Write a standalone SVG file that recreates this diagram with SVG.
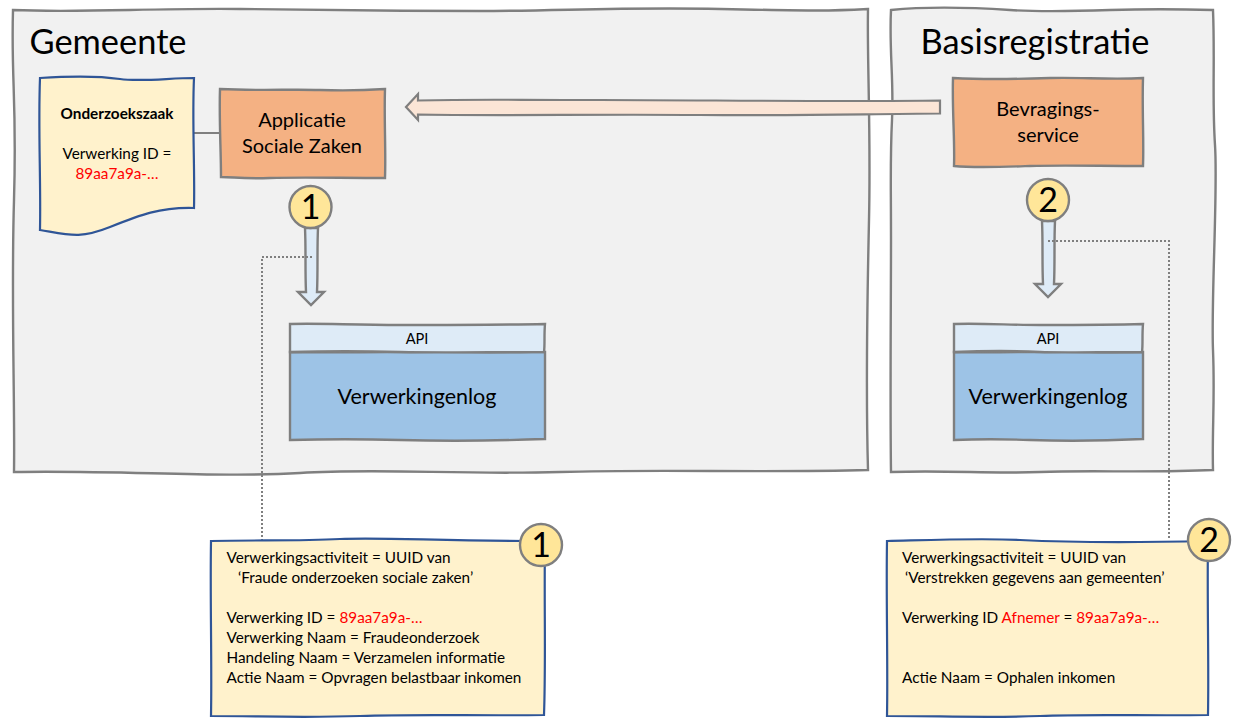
<svg xmlns="http://www.w3.org/2000/svg" width="1241" height="727" viewBox="0 0 1241 727">
<style>
text{font-family:"Lato","Liberation Sans",sans-serif;fill:#000}
.panel{fill:#f1f1f1;stroke:#7f7f7f;stroke-width:2.4}
.orange{fill:#f4b183;stroke:#7f7f7f;stroke-width:2.4}
.paper{fill:#fff2cc;stroke:#2f5597;stroke-width:2.2}
.badge{fill:#ffe699;stroke:#7f7f7f;stroke-width:2.4}
.api{fill:#deebf7;stroke:#7f7f7f;stroke-width:2.4}
.log{fill:#9dc3e6;stroke:#7f7f7f;stroke-width:2.4}
.arrow{fill:#deebf7;stroke:#7f7f7f;stroke-width:2.4}
.big{fill:#fbe5d6;stroke:#7f7f7f;stroke-width:2.2}
.dot{fill:none;stroke:#7f7f7f;stroke-width:2;stroke-dasharray:2 2}
.line{fill:none;stroke:#7f7f7f;stroke-width:2}
.title{font-size:34.4px}
.label{font-size:20px}
.logt{font-size:21.5px}
.small{font-size:15.3px}
.api-t{font-size:14.6px}
.num{font-size:34px}
.red{fill:#ff0000}
</style>
<g id="panel-gemeente">
<path class="panel" d="M13 10C80 13 150 8 240 9S400 11 480 11S620 7 720 9S830 11 868 9C867 60 871 130 869 220S866 400 868 470C760 473 660 469 560 472S380 468 300 473S120 470 14 472C15 400 11 300 14 200S11 80 13 10Z"/>
<text class="title" x="29.500" y="54">Gemeente</text>
</g>
<g id="panel-basisregistratie">
<path class="panel" d="M891 10C930 6 980 8 1010 10S1080 11 1110 10S1180 9 1213 10C1215 60 1212 100 1215 145S1211 300 1213 350S1212 430 1213 470C1150 473 1090 470 1040 472S950 470 891 472C890 400 891 300 891 240S890 160 892 120S889 50 891 10Z"/>
<text class="title" x="920.500" y="54">Basisregistratie</text>
</g>
<g id="connectors">
<path class="line" d="M194 133H220"/>
<path class="big" d="M940 100.500C840 102 700 100 600 100S480 99 418 100.500V94L406 107L418 120V114.500C500 116 600 114 700 115S860 114 940 113.500Z"/>
<path class="arrow" d="M305 228C306 250 305 270 306 292H298L311 305L324 292H317C318 270 317 250 318 228Z"/>
<path class="arrow" d="M1042 221C1043 243 1042 263 1043 284H1035L1048 297L1061 284H1054C1055 263 1054 243 1055 221Z"/>
<path class="dot" d="M312 257H262V540"/>
<path class="dot" d="M1048 241H1169V540"/>
</g>
<g id="doc-onderzoekszaak">
<path class="paper" d="M40 78C70 76 100 76 120 79S170 78 194 78C192 120 195 170 194 208C160 207 140 215 110 227S70 235 40 230C41 180 38 130 40 78Z"/>
<text class="small" font-weight="700" x="117" y="118.500" text-anchor="middle">Onderzoekszaak</text>
<text class="small" x="117" y="158.500" text-anchor="middle">Verwerking ID =</text>
<text class="small red" x="117" y="178.500" text-anchor="middle">89aa7a9a-…</text>
</g>
<g id="node-applicatie">
<path class="orange" d="M220 89C260 91 290 89 320 90S370 90 385 89C384 120 386 150 385 178C340 178 300 177 270 178S235 177 221 177C221 150 219 120 220 89Z"/>
<text class="label" x="302" y="127" text-anchor="middle">Applicatie</text>
<text class="label" x="302" y="153" text-anchor="middle">Sociale Zaken</text>
</g>
<g id="node-bevragingsservice">
<path class="orange" d="M953 78C990 80 1020 79 1050 78S1110 80 1143 78C1142 110 1144 140 1143 166C1100 166 1060 165 1030 166S975 168 954 166C955 140 952 110 953 78Z"/>
<text class="label" x="1048" y="116" text-anchor="middle">Bevragings-</text>
<text class="label" x="1048" y="142" text-anchor="middle">service</text>
</g>
<g id="badge-1a">
<circle class="badge" cx="310.500" cy="207" r="21"/>
<text class="num" x="310.500" y="219" text-anchor="middle">1</text>
</g>
<g id="badge-2a">
<circle class="badge" cx="1048" cy="200" r="21"/>
<text class="num" x="1048" y="212" text-anchor="middle">2</text>
</g>
<g id="log-gemeente">
<path class="log" d="M290 352C360 353 420 351 470 352S530 352 545 352V439C490 441 440 441 400 440S330 439 290 440Z"/>
<path class="api" d="M290 324C320 323 350 325 400 325S500 325 545 324C544 335 545 345 544 352C490 352 440 353 400 352S330 351 290 352Z"/>
<text class="api-t" x="417" y="344" text-anchor="middle">API</text>
<text class="logt" x="417" y="404" text-anchor="middle">Verwerkingenlog</text>
</g>
<g id="log-basisregistratie">
<path class="log" d="M954 352C1000 353 1050 351 1090 352S1130 352 1143 352V439C1100 441 1060 441 1030 440S980 439 954 440Z"/>
<path class="api" d="M954 324C980 323 1010 325 1040 325S1110 325 1143 324C1142 335 1143 345 1142 352C1100 352 1060 353 1040 352S980 351 954 352Z"/>
<text class="api-t" x="1048" y="344" text-anchor="middle">API</text>
<text class="logt" x="1048" y="404" text-anchor="middle">Verwerkingenlog</text>
</g>
<g id="note-1">
<path class="paper" d="M211 541C260 540 300 541 340 539S440 541 545 541C544 600 546 660 544 715C480 716 420 714 360 716S260 716 211 716C212 660 210 600 211 541Z"/>
<text class="small" x="226.500" y="563">Verwerkingsactiviteit = UUID van</text>
<text class="small" x="238" y="583">‘Fraude onderzoeken sociale zaken’</text>
<text class="small" x="226.500" y="623">Verwerking ID = <tspan class="red">89aa7a9a-…</tspan></text>
<text class="small" x="226.500" y="643">Verwerking Naam = Fraudeonderzoek</text>
<text class="small" x="226.500" y="663">Handeling Naam = Verzamelen informatie</text>
<text class="small" x="226.500" y="683">Actie Naam = Opvragen belastbaar inkomen</text>
<circle class="badge" cx="541" cy="545" r="21"/>
<text class="num" x="541" y="557" text-anchor="middle">1</text>
</g>
<g id="note-2">
<path class="paper" d="M887 541C930 540 980 538 1020 540S1120 543 1208 541C1207 600 1209 660 1208 715C1150 716 1090 714 1040 716S940 716 887 716C888 660 886 600 887 541Z"/>
<text class="small" x="902" y="563">Verwerkingsactiviteit = UUID van</text>
<text class="small" x="905" y="583">‘Verstrekken gegevens aan gemeenten’</text>
<text class="small" x="902" y="623">Verwerking ID <tspan class="red">Afnemer</tspan> = <tspan class="red">89aa7a9a-…</tspan></text>
<text class="small" x="902" y="683">Actie Naam = Ophalen inkomen</text>
<circle class="badge" cx="1209" cy="540" r="21"/>
<text class="num" x="1209" y="552" text-anchor="middle">2</text>
</g>
</svg>
